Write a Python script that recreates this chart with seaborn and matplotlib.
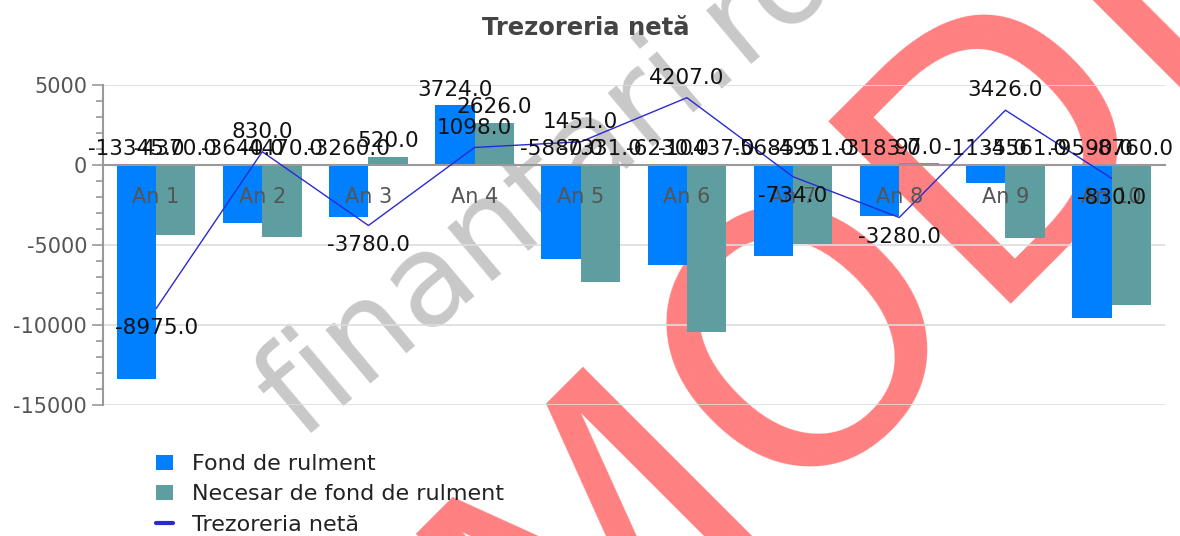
import numpy as np
import pandas as pd
import matplotlib
matplotlib.use('Agg')
import matplotlib.pyplot as plt
import seaborn as sns

# data
ani = ['An 1', 'An 2', 'An 3', 'An 4', 'An 5', 'An 6', 'An 7', 'An 8', 'An 9', 'An 10']
fond_rulment = [-13345, -3640, -3260, 3724, -5880, -6230, -5685, -3183, -1135, -9590]
necesar_fond = [-4370, -4470, 520, 2626, -7331, -10437, -4951, 97, -4561, -8760]
trezoreria = [-8975, 830, -3780, 1098, 1451, 4207, -734, -3280, 3426, -830]
serii = ['Fond de rulment', 'Necesar de fond de rulment']

df = pd.DataFrame({
    'an': ani * 2,
    'valoare': fond_rulment + necesar_fond,
    'serie': [serii[0]] * len(ani) + [serii[1]] * len(ani),
})

sns.set_style('white')
plt.rcParams['font.family'] = ['DejaVu Sans']
plt.rcParams['axes.unicode_minus'] = False

fig = plt.figure(figsize=(11.8, 5.36), dpi=100)
ax = fig.add_axes([0.0873, 0.2444, 0.8997, 0.597])
ax.set_facecolor('none')

# watermarks behind the chart
fig.text(0.254, 0.179, 'finantari.ro', fontsize=92, color='#c8c8c8', rotation=40,
         ha='left', va='baseline', rotation_mode='anchor', zorder=-2)
fig.text(0.478, -0.336, 'MODEL', fontsize=255, color='#ff8080', rotation=45,
         ha='left', va='baseline', rotation_mode='anchor', zorder=-3)

sns.barplot(data=df, x='an', y='valoare', hue='serie',
            palette=['#0080ff', '#5f9ea0'], saturation=1, width=0.74,
            linewidth=0, ax=ax, zorder=3)
sns.lineplot(x=np.arange(len(ani)), y=trezoreria, color='#2a2ad0', lw=1.0,
             label='Trezoreria netă', ax=ax, zorder=4)

# value labels on the bars
for cont in ax.containers:
    for bar, val in zip(cont, cont.datavalues):
        ax.annotate(f'{val:.1f}', (bar.get_x() + bar.get_width() / 2, max(val, 0)),
                    xytext=(0, 4), textcoords='offset points',
                    ha='center', va='bottom', fontsize=15.5, color='#111111', zorder=6)

# labels on the line
for i, val in enumerate(trezoreria):
    if val >= 0:
        ax.annotate(f'{val:.1f}', (i, val), xytext=(0, 7), textcoords='offset points',
                    ha='center', va='bottom', fontsize=15.5, color='#111111', zorder=6)
    else:
        ax.annotate(f'{val:.1f}', (i, val), xytext=(0, -7), textcoords='offset points',
                    ha='center', va='top', fontsize=15.5, color='#111111', zorder=6)

ax.set_xlim(-0.5, 9.5)
ax.set_ylim(-15000, 5000)
ax.set_yticks([5000, 0, -5000, -10000, -15000])
ax.set_yticks(np.arange(-15000, 5001, 1000), minor=True)
ax.set_xlabel('')
ax.set_ylabel('')
ax.grid(axis='y', color='#dddddd', lw=1.2, zorder=0)

for s in ['top', 'right']:
    ax.spines[s].set_visible(False)
ax.spines['left'].set_color('#999999')
ax.spines['left'].set_linewidth(1.5)
ax.spines['bottom'].set_position(('data', 0))
ax.spines['bottom'].set_color('#999999')
ax.spines['bottom'].set_linewidth(1.5)
ax.spines['bottom'].set_zorder(3.5)
ax.tick_params(axis='y', which='major', length=8, width=1.2, color='#999999',
               labelsize=15, labelcolor='#555555', left=True)
ax.tick_params(axis='y', which='minor', length=5, width=1.2, color='#999999', left=True)
ax.tick_params(axis='x', length=0, pad=16, labelsize=15, labelcolor='#555555')
ax.xaxis.set_zorder(5)

fig.text(0.496, 0.948, 'Trezoreria netă', fontsize=17.5, fontweight='bold',
         color='#444444', ha='center', va='center')

handles, labels = ax.get_legend_handles_labels()
ax.get_legend().remove()
leg = fig.legend(handles, labels, loc='upper left', bbox_to_anchor=(0.115, 0.19),
                 frameon=False, fontsize=16, handlelength=0.8, handleheight=0.7,
                 labelspacing=0.46, handletextpad=0.85, labelcolor='#222222')
leg.get_lines()[0].set_linewidth(3)

fig.savefig('out.png', dpi=100)
